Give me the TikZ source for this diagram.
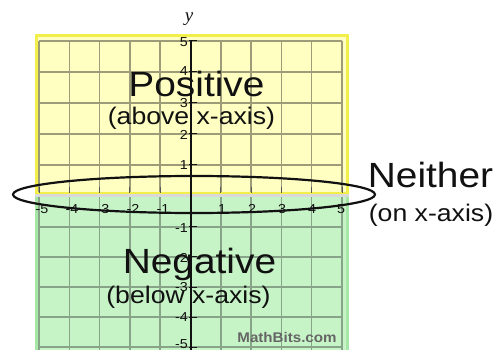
\documentclass[tikz,border=0pt]{standalone}
\usepackage{fontspec}
\setmainfont{Liberation Sans}
\newfontfamily\yfont{Liberation Serif}
\definecolor{ybg}{HTML}{FFFFC2}
\definecolor{yborder}{HTML}{F2EE4A}
\definecolor{gbg}{HTML}{C6F4C6}
\definecolor{gborder}{HTML}{A6E6A6}
\definecolor{gridY}{HTML}{9C9C78}
\definecolor{gridG}{HTML}{88A488}
\definecolor{txt}{HTML}{111111}
\begin{document}
\begin{tikzpicture}[x=1pt,y=-1pt,
  big/.style={inner sep=0pt, anchor=base, text=txt, font=\fontsize{35}{40}\selectfont},
  sub/.style={inner sep=0pt, anchor=base, text=txt, font=\fontsize{24}{28}\selectfont},
  tick/.style={inner sep=0pt, text=txt, font=\fontsize{13}{14}\selectfont},
  gridlineY/.style={gridY, line width=1.5pt},
  gridlineG/.style={gridG, line width=1.5pt}]
\useasboundingbox (0,0) rectangle (504,350);
% regions
\fill[ybg] (35,34) rectangle (349,195);
\fill[gbg] (35,195) rectangle (349,352);
% grid
\foreach \i in {0,...,10} {
  \draw[gridlineY] ({39+30.3*\i},41) -- ({39+30.3*\i},194);
  \draw[gridlineG] ({39+30.3*\i},197) -- ({39+30.3*\i},352);
}
\foreach \y in {41,72,103,134,165} \draw[gridlineY] (39,\y) -- (342,\y);
\foreach \y in {227,257,287,317,347} \draw[gridlineG] (39,\y) -- (342,\y);
% borders
\draw[yborder, line width=3pt] (36.5,35.5) rectangle (347.5,193.5);
\draw[gborder, line width=3pt] (36.5,197) -- (36.5,352);
\draw[gborder, line width=3pt] (347.5,197) -- (347.5,352);
% x axis band
\draw[gray!30, line width=2.5pt] (35,195.3) -- (349,195.3);
\foreach \i in {0,...,10} \draw[txt!70, line width=1pt] ({39+30.3*\i},187) -- ({39+30.3*\i},193);
% y axis
\draw[txt, line width=1.4pt] (191,41) -- (191,350);
\foreach \y in {41,72,103,134,165,227,257,287,317,347} \draw[txt, line width=1pt] (189,\y) -- (197,\y);
% y labels
\foreach \v/\y in {5/42,4/71,3/103,2/135,1/165,-1/228,-2/258,-3/287,-4/317,-5/344}
  \node[tick, anchor=east] (yl\v) at (188,\y) {\scalebox{1.1}[1]{\v}};
% x labels
\foreach \v/\x in {-5/42,-4/72,-3/103,-2/133,-1/163,1/222,2/252,3/282,4/312,5/341}
  \node[tick] (xl\v) at (\x,209) {\scalebox{1.1}[1]{\v}};
\node[inner sep=0pt, text=txt, font=\yfont\itshape\fontsize{19}{20}\selectfont] (ylab) at (189,19) {y};
% texts
\node[big] (pos) at (196.5,97) {\scalebox{1.11}[1]{Positive}};
\node[sub] (posb) at (191.5,125) {\scalebox{1.11}[1]{(above x-axis)}};
\node[big] (neg) at (199.5,273) {\scalebox{1.11}[1]{Negative}};
\node[sub] (negb) at (188.5,303) {\scalebox{1.11}[1]{(below x-axis)}};
\node[big] (nei) at (430.5,188) {\scalebox{1.11}[1]{Neither}};
\node[sub] (neib) at (431,222) {\scalebox{1.11}[1]{(on x-axis)}};
\node[inner sep=0pt, anchor=base, text=black!60, font=\bfseries\fontsize{14}{16}\selectfont] (mb) at (287,342) {\scalebox{1.08}[1]{MathBits.com}};
% ellipse
\draw[txt, line width=2.2pt] (194,194.5) ellipse [x radius=181, y radius=18.5];
\end{tikzpicture}
\end{document}
